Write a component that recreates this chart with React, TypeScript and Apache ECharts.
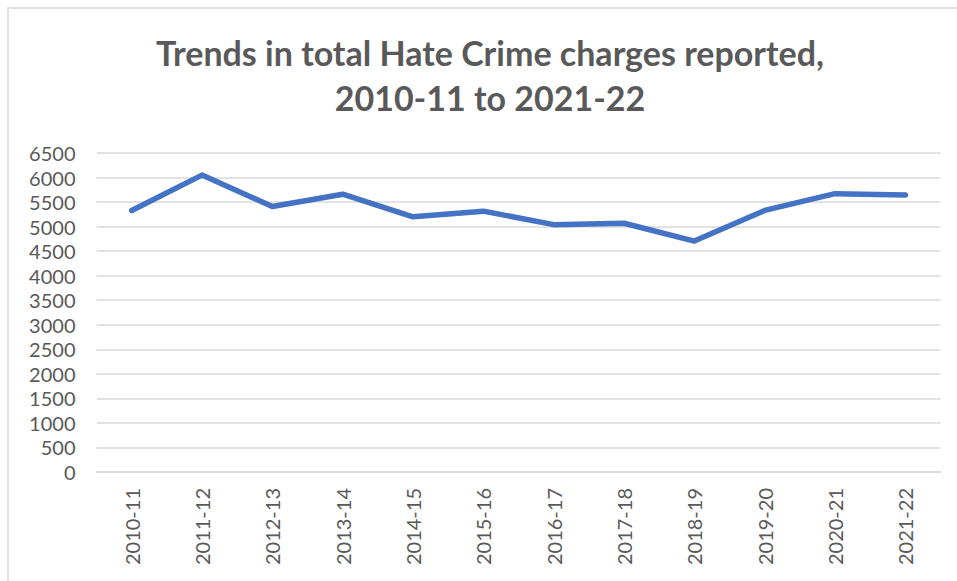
import React, { useEffect, useRef } from "react";
import * as echarts from "echarts";

const titleLines = ["Trends in total Hate Crime charges reported,", "2010-11 to 2021-22"];
const categories = [
  "2010-11", "2011-12", "2012-13", "2013-14", "2014-15", "2015-16",
  "2016-17", "2017-18", "2018-19", "2019-20", "2020-21", "2021-22",
];
const charges = [5330, 6050, 5410, 5660, 5200, 5315, 5040, 5068, 4705, 5330, 5672, 5645];
const yMin = 0;
const yMax = 6500;
const yStep = 500;

export default function App() {
  const ref = useRef<HTMLDivElement>(null);
  useEffect(() => {
    if (!ref.current) return;
    const chart = echarts.init(ref.current, null, { renderer: "svg" });
    chart.setOption({
      animation: false,
      backgroundColor: "#ffffff",
      graphic: [
        {
          type: "rect",
          shape: { x: 8, y: 8, width: 970, height: 600 },
          style: { fill: "none", stroke: "#d9d9d9", lineWidth: 1.5 },
          silent: true,
          z: -1,
        },
        {
          type: "text",
          x: 490,
          y: 52,
          style: {
            text: titleLines[0],
            fill: "#595959",
            font: "bold 34px Lato",
            align: "center",
            verticalAlign: "middle",
          },
        },
        {
          type: "text",
          x: 490,
          y: 97,
          style: {
            text: titleLines[1],
            fill: "#595959",
            font: "bold 34px Lato",
            align: "center",
            verticalAlign: "middle",
          },
        },
      ],
      grid: {
        left: 96.5,
        right: 16.5,
        top: 153,
        bottom: 109,
        containLabel: false,
        outerBoundsMode: "none",
      },
      xAxis: {
        type: "category",
        data: categories,
        boundaryGap: true,
        axisLine: { show: true, lineStyle: { color: "#d9d9d9", width: 1.5 } },
        axisTick: { show: false },
        axisLabel: {
          rotate: 90,
          margin: 16,
          color: "#595959",
          fontFamily: "Lato",
          fontSize: 20,
          interval: 0,
        },
      },
      yAxis: {
        type: "value",
        min: yMin,
        max: yMax,
        interval: yStep,
        axisLine: { show: false },
        axisTick: { show: false },
        splitLine: { lineStyle: { color: "#d9d9d9", width: 1.5 } },
        axisLabel: {
          margin: 21,
          color: "#595959",
          fontFamily: "Lato",
          fontSize: 20,
          formatter: (v: number) => String(v),
        },
      },
      series: [
        {
          type: "line",
          data: charges,
          showSymbol: false,
          symbol: "none",
          lineStyle: { color: "#4472C4", width: 5.5, cap: "round", join: "round" },
          itemStyle: { color: "#4472C4" },
        },
      ],
    });
    return () => chart.dispose();
  }, []);
  return (
    <div
      ref={ref}
      style={{ position: "fixed", left: 0, top: 0, width: 957, height: 581 }}
    />
  );
}
